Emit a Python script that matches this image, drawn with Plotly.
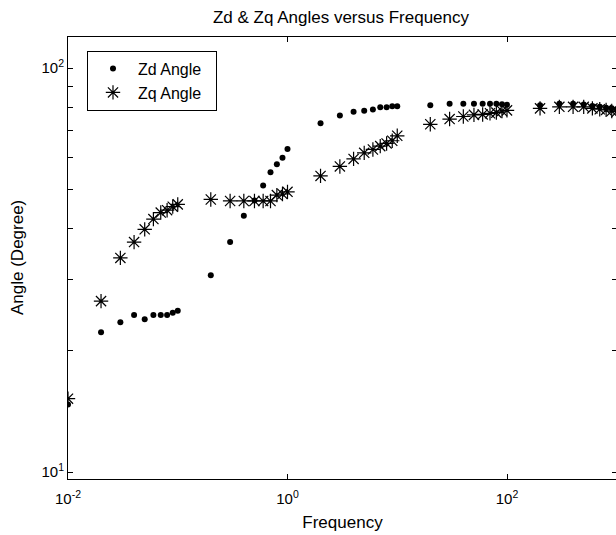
import plotly.graph_objects as go

freq = [0.01, 0.02, 0.03, 0.04, 0.05, 0.06, 0.07, 0.08, 0.09, 0.1,
        0.2, 0.3, 0.4, 0.5, 0.6, 0.7, 0.8, 0.9, 1,
        2, 3, 4, 5, 6, 7, 8, 9, 10,
        20, 30, 40, 50, 60, 70, 80, 90, 100,
        200, 300, 400, 500, 600, 700, 800, 900, 1000]

zd_angle = [14.7, 22.2, 23.5, 24.5, 23.9, 24.5, 24.5, 24.5, 24.8, 25.1,
            30.7, 37.1, 43.1, 47.0, 51.2, 55.2, 57.8, 60.0, 63.1,
            73.0, 76.3, 78.0, 78.4, 79.0, 80.0, 80.0, 80.5, 80.5,
            80.9, 81.6, 81.6, 81.6, 81.6, 81.6, 81.6, 81.4, 81.2,
            80.9, 81.6, 81.6, 81.3, 80.6, 80.2, 79.8, 79.5, 79.1]

zq_angle = [15.2, 26.5, 33.9, 37.1, 39.9, 42.3, 43.9, 44.5, 45.4, 46.0,
            47.3, 46.9, 46.9, 46.9, 46.9, 46.9, 48.5, 48.8, 49.4,
            54.1, 57.1, 59.6, 61.7, 62.9, 64.1, 65.1, 66.1, 68.0,
            72.6, 74.8, 75.9, 76.6, 76.8, 77.3, 77.6, 78.3, 78.6,
            79.5, 80.2, 80.2, 80.2, 79.5, 79.1, 78.8, 78.3, 78.0]

x_tickvals = [0.01, 1, 100]
x_ticktext = ["10<sup>-2</sup>", "10<sup>0</sup>", "10<sup>2</sup>"]
y_tickvals = [10, 20, 30, 40, 50, 60, 70, 80, 90, 100]
y_ticktext = ["10<sup>1</sup>", "", "", "", "", "", "", "", "", "10<sup>2</sup>"]

FONT = "Liberation Sans, Arial, sans-serif"
W = 617  # plot area runs just past the 616 px window edge, as in the reference

fig = go.Figure()
fig.add_trace(go.Scatter(
    x=freq, y=zd_angle, mode="markers", name="Zd Angle\u00a0\u00a0",
    marker=dict(symbol="circle", size=6, color="black", line=dict(width=0)),
))
fig.add_trace(go.Scatter(
    x=freq, y=zq_angle, mode="markers", name="Zq Angle\u00a0\u00a0",
    marker=dict(symbol="asterisk-open", size=12, color="black",
                line=dict(width=1.2, color="black")),
))

fig.update_layout(
    width=W, height=535,
    margin=dict(l=68, r=0, t=37, b=56, autoexpand=False),
    paper_bgcolor="white", plot_bgcolor="white",
    font=dict(family=FONT, size=14, color="black"),
    title=dict(text="Zd & Zq Angles versus Frequency", x=(341 - 68) / (W - 68),
               xref="paper", xanchor="center",
               y=1 - 17 / 535, yanchor="middle",
               font=dict(family=FONT, size=17, color="black")),
    showlegend=True,
    legend=dict(x=(87 - 68) / (W - 68), y=0.969, xanchor="left", yanchor="top",
                bordercolor="black", borderwidth=1, bgcolor="white",
                font=dict(family=FONT, size=16, color="black"),
                tracegroupgap=0, itemwidth=40),
    annotations=[dict(text="Angle (Degree)", textangle=-90,
                      xref="paper", yref="paper", x=(17 - 68) / (W - 68), y=(479 - 258) / 442,
                      xanchor="center", yanchor="middle", showarrow=False,
                      font=dict(family=FONT, size=17, color="black"))],
)
fig.update_xaxes(
    type="log", range=[-2, -2 + (W - 68) / 109.75], tickvals=x_tickvals, ticktext=x_ticktext,
    ticks="inside", ticklen=5, tickcolor="black", tickwidth=1,
    showline=True, linecolor="black", linewidth=1, mirror="ticks",
    showgrid=False, zeroline=False, automargin=False, ticklabelstandoff=6,
    tickfont=dict(family=FONT, size=15, color="black"),
    title=dict(text="Frequency", font=dict(family=FONT, size=17, color="black"), standoff=10),
)
fig.update_yaxes(
    type="log", range=[0.983, 2.077], tickvals=y_tickvals, ticktext=y_ticktext,
    ticks="inside", ticklen=5, tickcolor="black", tickwidth=1,
    showline=True, linecolor="black", linewidth=1, mirror="ticks",
    showgrid=False, zeroline=False, automargin=False,
    tickfont=dict(family=FONT, size=15, color="black"),
)

fig.write_html("out.html", config={"displayModeBar": False},
               post_script="document.body.style.margin='0';document.body.style.padding='0';"
                           "document.body.style.overflow='hidden';"
                           "document.documentElement.style.overflow='hidden';")
